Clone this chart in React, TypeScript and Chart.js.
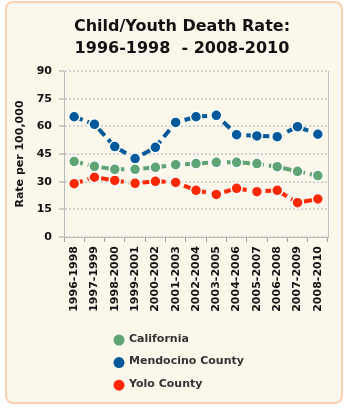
import React, { useEffect, useRef } from "react";
import { Chart, registerables } from "chart.js";

Chart.register(...registerables);

const categories = [
  "1996-1998", "1997-1999", "1998-2000", "1999-2001", "2000-2002", "2001-2003",
  "2002-2004", "2003-2005", "2004-2006", "2005-2007", "2006-2008", "2007-2009", "2008-2010",
];
const california = [41.0, 38.3, 36.7, 36.7, 37.8, 39.2, 39.8, 40.5, 40.5, 39.8, 38.1, 35.6, 33.3];
const mendocino = [65.2, 61.1, 49.0, 42.5, 48.6, 62.1, 65.2, 66.0, 55.5, 54.8, 54.4, 59.8, 55.7];
const yolo = [28.9, 32.4, 30.7, 29.1, 30.2, 29.6, 25.3, 23.1, 26.4, 24.6, 25.3, 18.6, 20.6];
const seriesNames = ["California", "Mendocino County", "Yolo County"];
const seriesColors = ["#5ea474", "#00599a", "#ff2800"];
const titleLines = ["Child/Youth Death Rate:", "1996-1998  - 2008-2010"];
const yTitle = "Rate per 100,000";

const FONT = "'DejaVu Sans', Verdana, sans-serif";

const decorPlugin = {
  id: "decor",
  beforeDatasetsDraw(chart: any) {
    const { ctx, chartArea } = chart;
    ctx.save();
    ctx.strokeStyle = "#c4c4c4";
    ctx.lineWidth = 1;
    ctx.beginPath();
    ctx.moveTo(chartArea.right + 0.5, chartArea.top);
    ctx.lineTo(chartArea.right + 0.5, chartArea.bottom);
    ctx.stroke();
    ctx.restore();
  },
  afterDraw(chart: any) {
    const { ctx } = chart;
    ctx.save();
    ctx.fillStyle = "#111";
    ctx.font = `bold 16px ${FONT}`;
    ctx.textAlign = "center";
    ctx.textBaseline = "middle";
    ctx.fillText(titleLines[0], 182, 27);
    ctx.fillText(titleLines[1], 182, 49);

    ctx.font = `bold 11px ${FONT}`;
    ctx.textAlign = "left";
    chart.data.datasets.forEach((ds: any, i: number) => {
      const y = 340 + i * 22.6;
      ctx.beginPath();
      ctx.fillStyle = ds.borderColor;
      ctx.arc(119, y, 5.5, 0, Math.PI * 2);
      ctx.fill();
      ctx.fillStyle = "#333";
      ctx.fillText(ds.label, 129, y - 1);
    });
    ctx.restore();
  },
};

export default function App() {
  const ref = useRef<HTMLCanvasElement | null>(null);
  useEffect(() => {
    if (!ref.current) return;
    const mk = (i: number, data: number[]) => ({
      label: seriesNames[i],
      data,
      borderColor: seriesColors[i],
      backgroundColor: seriesColors[i],
      pointBackgroundColor: seriesColors[i],
      pointBorderColor: "#ffffff",
      pointBorderWidth: 1.5,
      pointRadius: 5.5,
      borderWidth: 4,
      borderDash: [9, 5],
      tension: 0,
      fill: false,
    });
    const chart = new Chart(ref.current, {
      type: "line",
      data: {
        labels: categories,
        datasets: [mk(0, california), mk(1, mendocino), mk(2, yolo)],
      },
      options: {
        responsive: false,
        animation: false,
        layout: { padding: { left: 0, right: 21, top: 71, bottom: 81 } },
        plugins: {
          legend: { display: false },
          title: { display: false },
          tooltip: { enabled: false },
        },
        scales: {
          x: {
            offset: true,
            afterFit: (s: any) => { s.height = 90; },
            grid: {
              offset: true,
              drawOnChartArea: false,
              tickLength: 5,
              tickColor: "#a0a0a0",
            },
            border: { color: "#b8b8b8", width: 1 },
            ticks: {
              minRotation: 90,
              maxRotation: 90,
              autoSkip: false,
              padding: 4,
              color: "#111",
              font: { family: FONT, size: 11, weight: "bold" },
            },
          },
          y: {
            min: 0,
            max: 90,
            afterFit: (s: any) => { s.width = 64; },
            grid: {
              color: "#d2d2d2",
              lineWidth: 2,
              tickLength: 5,
              tickColor: "#a0a0a0",
              tickWidth: 1,
            },
            border: { color: "#b8b8b8", width: 1, dash: [2, 2] },
            ticks: {
              stepSize: 15,
              padding: 7,
              color: "#111",
              font: { family: FONT, size: 11, weight: "bold" },
            },
            title: {
              display: true,
              text: yTitle,
              color: "#111",
              padding: { top: 14, bottom: 0 },
              font: { family: FONT, size: 11, weight: "bold" },
            },
          },
        },
      },
      plugins: [decorPlugin],
    } as any);
    return () => chart.destroy();
  }, []);

  return (
    <div style={{ position: "absolute", left: 0, top: 0, width: 349, height: 408, background: "#fff" }}>
      <div
        style={{
          position: "absolute",
          left: 5,
          top: 1,
          width: 338,
          height: 403,
          boxSizing: "border-box",
          border: "2px solid #fdd0b4",
          borderRadius: 8,
          background: "#fcf7eb",
        }}
      />
      <canvas ref={ref} width={349} height={408} style={{ position: "absolute", left: 0, top: 0 }} />
    </div>
  );
}
